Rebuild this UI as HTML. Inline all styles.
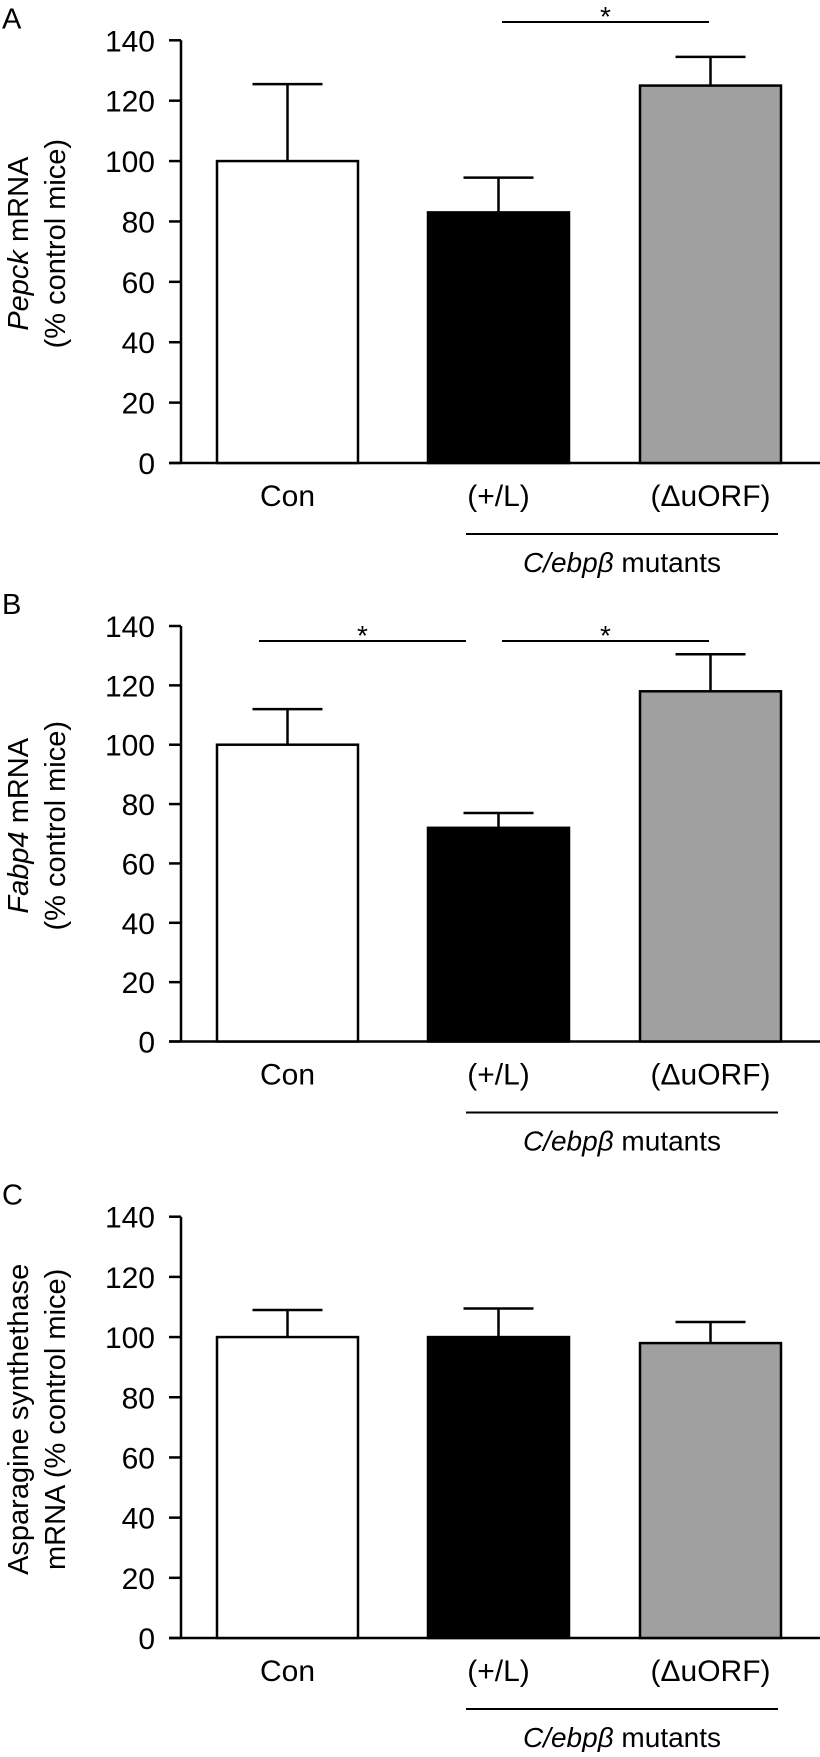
<!DOCTYPE html>
<html><head><meta charset="utf-8"><style>
html,body{margin:0;padding:0;background:#fff}
svg text{font-family:"Liberation Sans",sans-serif;fill:#000}
</style></head><body>
<svg id="chart" width="820" height="1752" xmlns="http://www.w3.org/2000/svg"></svg>
<script>
const categories = ["Con", "(+/L)", "(\u0394uORF)"];
const pepckValues = [100, 83, 125];
const pepckErrors = [25.5, 11.5, 9.5];
const fabp4Values = [100, 72, 118];
const fabp4Errors = [12, 5, 12.5];
const asnsValues = [100, 100, 98];
const asnsErrors = [9, 9.5, 7];
const tickValues = [0, 20, 40, 60, 80, 100, 120, 140];
const fills = ["#ffffff", "#000000", "#a0a0a0"];

const NS = "http://www.w3.org/2000/svg";
const svg = document.getElementById("chart");
function mk(tag, attrs, parent, text) {
  const e = document.createElementNS(NS, tag);
  for (const k in attrs) e.setAttribute(k, attrs[k]);
  if (text !== undefined) e.textContent = text;
  (parent || svg).appendChild(e);
  return e;
}
const axisX = 181, barW = 141;
const barLeft = [217, 428, 640];

function panel(cfg) {
  const g = mk("g", {});
  
  
  const y = v => cfg.y0 - (cfg.y0 - cfg.y140) * v / 140;
  const x = i => barLeft[i] + barW / 2;
  const lt = mk("text", {x: 2, y: cfg.y140 - 12, "font-size": 29}, g, cfg.letter);
  
  
  const ax = mk("line", {x1: axisX, y1: y(140), x2: axisX, y2: y(0), stroke: "#000", "stroke-width": 2.5}, g);
  
  
  const xa = mk("line", {x1: 169, y1: y(0), x2: 820, y2: y(0), stroke: "#000", "stroke-width": 2.5}, g);
  
  
  tickValues.forEach(t => {
    const tk = mk("line", {x1: 169, y1: y(t), x2: axisX, y2: y(t), stroke: "#000", "stroke-width": 2.5}, g);
    
    
    const tl = mk("text", {x: 155, y: y(t) + 11, "font-size": 30, "text-anchor": "end"}, g, t);
    
    
  });
  const cy = (y(0) + y(140)) / 2 - 8;
  const yl = mk("text", {transform: `translate(0,${cy}) rotate(-90)`, "font-size": 29, "text-anchor": "middle"}, g);
  
  
  const t1 = mk("tspan", {x: 0, y: 28}, yl);
  if (cfg.italic) { mk("tspan", {"font-style": "italic"}, t1, cfg.italic); mk("tspan", {}, t1, " mRNA"); }
  else t1.textContent = cfg.line1;
  mk("tspan", {x: 0, y: 65}, yl, cfg.line2);
  cfg.values.forEach((v, i) => {
    const e = cfg.errors[i];
    const el = mk("line", {x1: x(i), y1: y(v), x2: x(i), y2: y(v + e), stroke: "#000", "stroke-width": 2.5}, g);
    
    
    const ec = mk("line", {x1: x(i) - 35, y1: y(v + e), x2: x(i) + 35, y2: y(v + e), stroke: "#000", "stroke-width": 2.5}, g);
    
    
    const b = mk("rect", {x: barLeft[i], y: y(v), width: barW, height: y(0) - y(v), fill: fills[i], stroke: "#000", "stroke-width": 2.5}, g);
    
    
    const xl = mk("text", {x: x(i), y: y(0) + 43, "font-size": 30, "text-anchor": "middle"}, g, categories[i]);
    
    
  });
  const gl = mk("line", {x1: 466, y1: y(0) + 71, x2: 778, y2: y(0) + 71, stroke: "#000", "stroke-width": 2}, g);
  
  
  const gt = mk("text", {x: 622, y: y(0) + 109, "font-size": 28, "text-anchor": "middle"}, g);
  
  
  mk("tspan", {"font-style": "italic"}, gt, "C/ebp\u03B2");
  mk("tspan", {}, gt, " mutants");
  cfg.sig.forEach(s => {
    const sl = mk("line", {x1: s[0], y1: cfg.sigY, x2: s[1], y2: cfg.sigY, stroke: "#000", "stroke-width": 2}, g);
    
    
    const st = mk("text", {x: (s[0] + s[1]) / 2, y: cfg.sigY + 4, "font-size": 28, "text-anchor": "middle"}, g, "*");
    
    
  });
}
panel({name: "panel-a-pepck", letter: "A", y0: 463, y140: 40.3, values: pepckValues, errors: pepckErrors,
  italic: "Pepck", line2: "(% control mice)", sig: [[502, 709]], sigY: 22});
panel({name: "panel-b-fabp4", letter: "B", y0: 1041.5, y140: 626, values: fabp4Values, errors: fabp4Errors,
  italic: "Fabp4", line2: "(% control mice)", sig: [[259, 466], [502, 709]], sigY: 641});
panel({name: "panel-c-asns", letter: "C", y0: 1638, y140: 1216.7, values: asnsValues, errors: asnsErrors,
  line1: "Asparagine synthethase", line2: "mRNA (% control mice)", sig: [], sigY: 0});
</script>
</body></html>
